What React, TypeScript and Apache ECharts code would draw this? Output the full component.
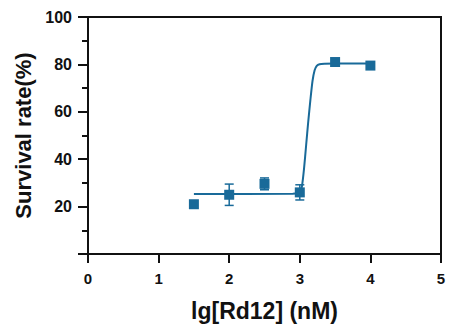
import React, { useEffect, useRef } from "react";
import * as echarts from "echarts";

const pointX = [1.5, 2.0, 2.5, 3.0, 3.5, 4.0];
const pointY = [21, 25, 29.6, 26, 81, 79.5];
const pointErr = [0, 4.5, 2.5, 3.2, 0, 0];

const curveX = [1.5, 2.9, 2.97, 3.0, 3.03, 3.06, 3.09, 3.12, 3.15, 3.18, 3.21, 3.24, 3.28, 3.35, 3.5, 4.0];
const curveY = [25.3, 25.4, 25.6, 26.2, 28.5, 36, 46, 56, 65, 73, 77.5, 79.4, 80.1, 80.3, 80.4, 80.4];

const xTicks = [0, 1, 2, 3, 4, 5];
const yTicks = [0, 20, 40, 60, 80, 100];

const BLUE = "#196a99";
const INK = "#111111";

export default function App() {
  const ref = useRef<HTMLDivElement>(null);
  useEffect(() => {
    document.body.style.margin = "0";
    const chart = echarts.init(ref.current!, null, { renderer: "svg" });
    const font = "Liberation Sans, Arial, sans-serif";
    chart.setOption({
      animation: false,
      grid: {
        left: 88,
        right: 9,
        top: 17,
        bottom: 78,
        show: true,
        borderColor: INK,
        borderWidth: 2,
      },
      xAxis: {
        type: "value",
        min: xTicks[0],
        max: xTicks[xTicks.length - 1],
        interval: 1,
        name: "lg[Rd12] (nM)",
        nameLocation: "middle",
        nameGap: 45,
        nameTextStyle: { fontFamily: font, fontWeight: "bold", fontSize: 23, color: INK },
        axisLine: { lineStyle: { color: INK, width: 2 } },
        axisTick: { length: 9, lineStyle: { color: INK, width: 2 } },
        axisLabel: { margin: 17, fontFamily: font, fontWeight: "bold", fontSize: 15, color: INK },
        splitLine: { show: false },
      },
      yAxis: {
        type: "value",
        min: yTicks[0],
        max: yTicks[yTicks.length - 1],
        interval: 20,
        name: "Survival rate(%)",
        nameLocation: "middle",
        nameGap: 54,
        nameTextStyle: { fontFamily: font, fontWeight: "bold", fontSize: 22, color: INK },
        axisLine: { show: true, lineStyle: { color: INK, width: 2 } },
        axisTick: { show: true, length: 10, lineStyle: { color: INK, width: 2 } },
        minorTick: { show: true, splitNumber: 2, length: 6, lineStyle: { color: INK, width: 2 } },
        axisLabel: {
          margin: 16,
          fontFamily: font,
          fontWeight: "bold",
          fontSize: 16,
          color: INK,
          formatter: (v: number) => (v === 0 ? "" : String(v)),
        },
        splitLine: { show: false },
        minorSplitLine: { show: false },
      },
      series: [
        {
          type: "line",
          data: curveX.map((x, i) => [x, curveY[i]]),
          showSymbol: false,
          smooth: 0.2,
          lineStyle: { color: BLUE, width: 2 },
          z: 2,
        },
        {
          type: "custom",
          data: pointX.map((x, i) => [x, pointY[i], pointErr[i]]),
          renderItem: (params: any, api: any) => {
            const x = api.value(0);
            const y = api.value(1);
            const e = api.value(2);
            if (!e) return { type: "group", children: [] };
            const top = api.coord([x, y + e]);
            const bot = api.coord([x, y - e]);
            const hw = 4.5;
            const style = { stroke: BLUE, lineWidth: 1.5 };
            return {
              type: "group",
              children: [
                { type: "line", shape: { x1: top[0], y1: top[1], x2: bot[0], y2: bot[1] }, style },
                { type: "line", shape: { x1: top[0] - hw, y1: top[1], x2: top[0] + hw, y2: top[1] }, style },
                { type: "line", shape: { x1: bot[0] - hw, y1: bot[1], x2: bot[0] + hw, y2: bot[1] }, style },
              ],
            };
          },
          z: 3,
        },
        {
          type: "scatter",
          data: pointX.map((x, i) => [x, pointY[i]]),
          symbol: "rect",
          symbolSize: 10,
          itemStyle: { color: BLUE, opacity: 1 },
          z: 4,
        },
      ],
    });
    return () => chart.dispose();
  }, []);
  return <div ref={ref} style={{ width: 450, height: 332 }} />;
}
